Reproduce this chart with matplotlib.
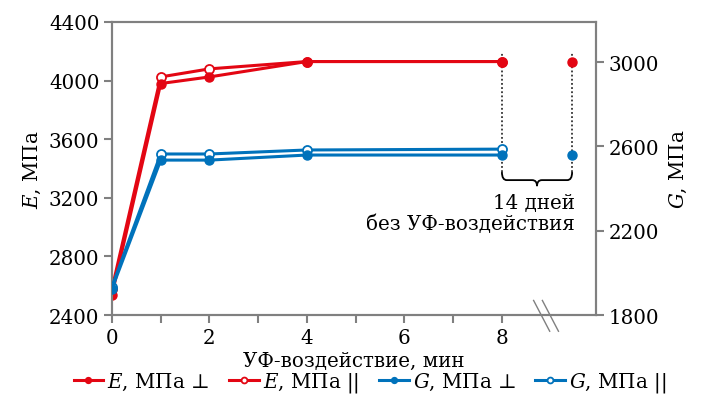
import matplotlib
matplotlib.use("Agg")
import matplotlib.pyplot as plt
from matplotlib.path import Path
from matplotlib.patches import PathPatch
import numpy as np

plt.rcParams['font.family'] = ['DejaVu Serif']
plt.rcParams['mathtext.fontset'] = 'dejavuserif'
plt.rcParams['font.size'] = 14.3

# данные
t = [0, 1, 2, 4, 8]
e_perp = [2540, 3980, 4025, 4130, 4130]
e_par = [2580, 4025, 4080, 4130, 4130]
g_perp = [1925, 2535, 2535, 2559, 2559]
g_par = [1935, 2564, 2564, 2583, 2587]
# после 14 дней без УФ
t_rest = [9.44]
e_perp_rest = [4130]
g_perp_rest = [2559]

red = '#e30613'
blue = '#0072bb'
gray = '#808080'

fig = plt.figure(figsize=(7.02, 4.10), dpi=100)
ax = fig.add_axes([0.1595, 0.229, 0.6895, 0.715])
ax2 = ax.twinx()

lw = 2.2
ms = 6.5
# E (левая ось)
l2, = ax.plot(t, e_par, color=red, lw=lw, marker='o', ms=ms, mfc='white', mec=red, mew=1.3, zorder=3)
l1, = ax.plot(t, e_perp, color=red, lw=lw, marker='o', ms=ms, mfc=red, mec=red, zorder=4)
ax.plot(t_rest, e_perp_rest, ls='none', marker='o', ms=ms, color=red, zorder=4)

# G (правая ось)
l4, = ax2.plot(t, g_par, color=blue, lw=lw, marker='o', ms=ms, mfc='white', mec=blue, mew=1.3, zorder=3)
l3, = ax2.plot(t, g_perp, color=blue, lw=lw, marker='o', ms=ms, mfc=blue, mec=blue, zorder=4)
ax2.plot(t_rest, g_perp_rest, ls='none', marker='o', ms=ms, color=blue, zorder=4)

ax.set_xlim(0, 9.93)
ax.set_ylim(2400, 4400)
ax2.set_ylim(1800, 3190)
ax.set_xticks(np.arange(0, 9, 1))
ax.set_xticklabels(['0', '', '2', '', '4', '', '6', '', '8'])
ax.set_yticks(np.arange(2400, 4401, 400))
ax2.set_yticks(np.arange(1800, 3001, 400))

for a in (ax, ax2):
    for s in a.spines.values():
        s.set_color(gray)
        s.set_linewidth(1.5)
    a.tick_params(colors=gray, labelcolor='black', width=1.5, length=6, pad=3)

ax.set_xlabel('УФ-воздействие, мин', labelpad=3)
ax.set_ylabel('$E$, МПа', labelpad=4)
ax2.set_ylabel('$G$, МПа', labelpad=6)

# пунктирные линии и скобка
y_top, y_bar, y_mid, y_tip = 4190, 3376, 3321, 3280
x0, x1 = t[-1], t_rest[0]
ax.vlines([x0, x1], y_bar, y_top, colors='#333333', linestyles=(0, (1, 1.3)), lw=1.3, zorder=2)
xc = (x0 + x1) / 2
r = 0.1
verts = [(x0, y_bar), (x0, y_mid), (x0 + r, y_mid),
         (xc - r, y_mid), (xc, y_mid), (xc, y_tip),
         (xc, y_mid), (xc + r, y_mid),
         (x1 - r, y_mid), (x1, y_mid), (x1, y_bar)]
codes = [Path.MOVETO, Path.CURVE3, Path.CURVE3,
         Path.LINETO, Path.CURVE3, Path.CURVE3,
         Path.CURVE3, Path.CURVE3,
         Path.LINETO, Path.CURVE3, Path.CURVE3]
ax.add_patch(PathPatch(Path(verts, codes), fill=False, lw=1.3, color='black', zorder=2))
ax.text(9.5, 3096, '14 дней\nбез УФ-воздействия', ha='right', va='center',
        multialignment='right', linespacing=1.1)

# разрыв оси
for dx in (0, 0.18):
    ax.plot([8.65 + dx, 8.98 + dx], [2500, 2290], color=gray, lw=1.0, clip_on=False)

fig.legend([l1, l2, l3, l4],
           ['$E$, МПа ⊥', '$E$, МПа ||', '$G$, МПа ⊥', '$G$, МПа ||'],
           loc='center', bbox_to_anchor=(0.527, 0.065), ncol=4, frameon=False,
           handlelength=1.5, handletextpad=0.2, columnspacing=1.0,
           markerscale=0.65)

fig.savefig('out.png', dpi=100)
